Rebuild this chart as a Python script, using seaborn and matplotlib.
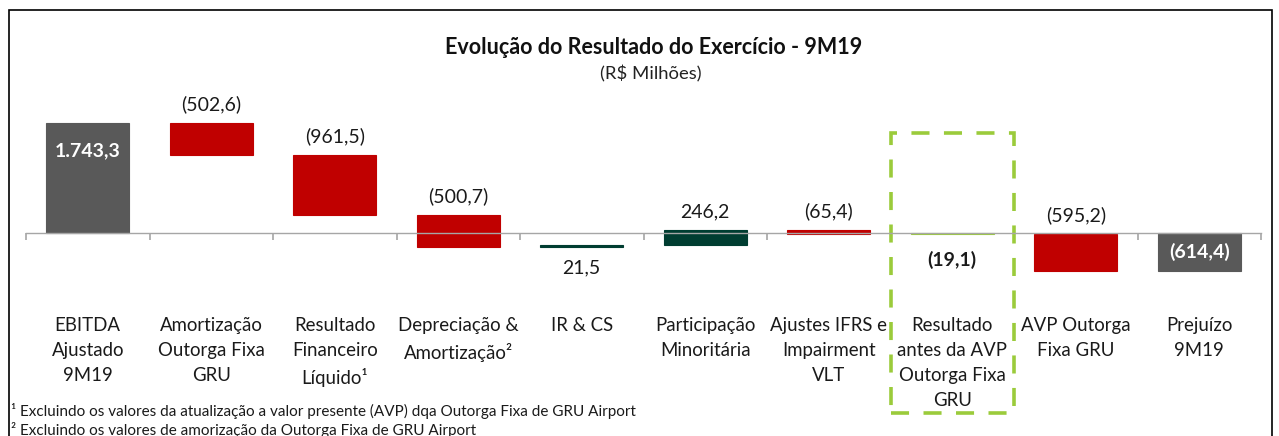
import numpy as np
import pandas as pd
import seaborn as sns
import matplotlib.pyplot as plt
import matplotlib.transforms as mtransforms
from matplotlib.patches import Rectangle

# chart data (R$ milhões)
categories = [
    "EBITDA\nAjustado\n9M19",
    "Amortização\nOutorga Fixa\nGRU",
    "Resultado\nFinanceiro\nLíquido¹",
    "Depreciação &\nAmortização²",
    "IR & CS",
    "Participação\nMinoritária",
    "Ajustes IFRS e\nImpairment\nVLT",
    "Resultado\nantes da AVP\nOutorga Fixa\nGRU",
    "AVP Outorga\nFixa GRU",
    "Prejuízo\n9M19",
]
values = [1743.3, -502.6, -961.5, -500.7, 21.5, 246.2, -65.4, -19.1, -595.2, -614.4]
kinds = ["total", "delta", "delta", "delta", "delta", "delta", "delta", "subtotal", "delta", "total"]
footnotes = [
    "¹ Excluindo os valores da atualização a valor presente (AVP) dqa Outorga Fixa de GRU Airport",
    "² Excluindo os valores de amorização da Outorga Fixa de GRU Airport",
]

GRAY = "#595959"
RED = "#C00000"
DKGREEN = "#003D31"
LIME = "#9BCB3B"

sns.set_style("white")
plt.rcParams["font.family"] = ["Lato", "DejaVu Sans"]


def fmt(v):
    s = f"{abs(v):,.1f}".replace(",", "X").replace(".", ",").replace("X", ".")
    return f"({s})" if v < 0 else s


# waterfall bottoms / heights
rows = []
running = 0.0
for i, (cat, v, k) in enumerate(zip(categories, values, kinds)):
    if k == "delta":
        bottom, height = running, v
        running += v
    else:
        bottom, height = 0.0, v
        running = v
    if k == "total":
        color = GRAY
    elif k == "subtotal":
        color = LIME
    else:
        color = RED if v < 0 else DKGREEN
    rows.append(dict(pos=i, cat=cat, value=v, bottom=bottom, height=height, color=color))
df = pd.DataFrame(rows)

fig = plt.figure(figsize=(12.79, 4.36), dpi=100)
W, H = 1279, 436
ax_top, ax_bot = 95, 295
ax = fig.add_axes([26 / W, (H - ax_bot) / H, 1235 / W, (ax_bot - ax_top) / H])

for color, sub in df.groupby("color", sort=False):
    sub = sub.sort_values("pos")
    sns.barplot(x=sub["cat"], y=sub["height"], order=categories, bottom=sub["bottom"].values,
                color=color, width=0.67, saturation=1, linewidth=0.8, edgecolor=color, ax=ax)

k = (232.7 - 123.3) / 1743.3
ax.set_ylim(-(ax_bot - 232.7) / k, (232.7 - ax_top) / k)
ax.set_xlim(-0.5, len(categories) - 0.5)

for s in ["top", "left", "right"]:
    ax.spines[s].set_visible(False)
ax.spines["bottom"].set_position(("data", 0))
ax.spines["bottom"].set_color("#A6A6A6")
ax.spines["bottom"].set_linewidth(1.0)
ax.set_yticks([])
ax.set_xlabel("")
ax.set_ylabel("")
ax.set_xticks(range(len(categories)))
ax.set_xticklabels(categories, fontsize=13.4, linespacing=1.55, color="#1a1a1a")
ax.set_xticks(np.arange(-0.5, len(categories), 1), minor=True)
ax.tick_params(axis="x", which="major", length=0, pad=61)
ax.tick_params(axis="x", which="minor", bottom=True, length=5, width=1.2,
               color="#A6A6A6", direction="out")

# value labels
label_pos = ["inside", "above", "above", "above", "below", "above", "above", "below", "above", "inside"]
for r, lp in zip(df.itertuples(), label_pos):
    top = max(r.bottom, r.bottom + r.height)
    low = min(r.bottom, r.bottom + r.height)
    txt = fmt(r.value)
    if lp == "above":
        ax.annotate(txt, (r.pos, top), xytext=(0, 7), textcoords="offset points",
                    ha="center", va="bottom", fontsize=14, color="#1a1a1a")
    elif lp == "below":
        bold = r.color == LIME
        ax.annotate(txt, (r.pos, low), xytext=(0, -12 if bold else -9), textcoords="offset points",
                    ha="center", va="top", fontsize=14, color="#1a1a1a",
                    fontweight="bold" if bold else "normal")
    else:
        ax.annotate(txt, (r.pos, top), xytext=(0, -20 if r.value > 0 else -14),
                    textcoords="offset points", ha="center", va="center",
                    fontsize=14, color="white", fontweight="bold")

# dashed highlight box around "Resultado antes da AVP"
trans = mtransforms.blended_transform_factory(ax.transData, fig.transFigure)
box = Rectangle((6.5, (H - 413) / H), 1.0, (413 - 133.3) / H, transform=trans, fill=False,
                edgecolor=LIME, linewidth=2.6, linestyle=(0, (5, 4)), clip_on=False)
ax.add_patch(box)

# titles
fig.text(654 / W, (H - 47) / H, "Evolução do Resultado do Exercício - 9M19", ha="center",
         va="center", fontsize=15.5, fontweight="bold", color="#111111")
fig.text(651 / W, (H - 74) / H, "(R$ Milhões)", ha="center", va="center",
         fontsize=13.3, color="#222222")

# footnotes
for i, note in enumerate(footnotes):
    fig.text(11 / W, (H - 411 - 19 * i) / H, note, ha="left", va="center", fontsize=11,
             color="#1a1a1a")

# outer frame
fig.patches.append(Rectangle((8.5 / W, -0.05), (1272 - 8.5) / W, (H - 10) / H + 0.05,
                             transform=fig.transFigure, fill=False, edgecolor="black",
                             linewidth=1.2))

fig.savefig("out.png", dpi=100)
